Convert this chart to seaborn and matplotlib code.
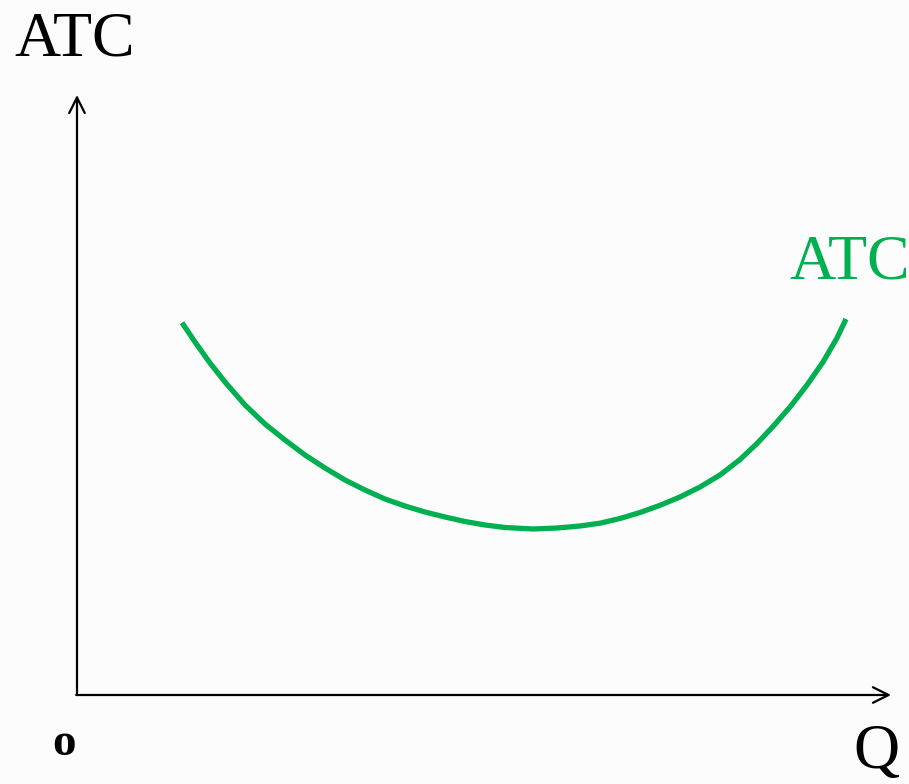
import matplotlib
matplotlib.use("Agg")
import matplotlib.pyplot as plt
import seaborn as sns
import pandas as pd

# Data (arbitrary units: quantity Q, average total cost ATC)
quantity = [10.5, 11.8, 13.3, 14.8, 16.8, 18.8, 20.8, 22.8, 24.8, 26.8,
            28.8, 30.8, 32.8, 34.8, 36.8, 38.8, 40.8, 42.8, 45.6,
            48.0, 50.3, 52.3, 54.3, 56.3, 58.3, 60.3, 62.3, 64.3, 66.3,
            68.0, 69.6, 71.3, 73.0, 74.6, 76.0, 76.9]
atc = [37.23, 35.3, 33.2, 31.3, 29.0, 27.1, 25.5, 24.0, 22.7, 21.5,
       20.5, 19.6, 18.9, 18.3, 17.8, 17.35, 17.0, 16.75, 16.6,
       16.7, 16.9, 17.18, 17.65, 18.25, 18.97, 19.8, 20.8, 22.0, 23.55,
       25.15, 26.85, 28.8, 31.0, 33.3, 35.7, 37.6]
y_axis_label = "ATC"
x_axis_label = "Q"
origin_label = "o"
curve_label = "ATC"

sns.set_theme(style="white")
plt.rcParams["font.family"] = ["Liberation Serif", "DejaVu Serif"]

bg = "#fcfcfc"
green = "#00b050"

fig = plt.figure(figsize=(9.09, 7.84), dpi=100, facecolor=bg)
ax = fig.add_axes([0, 0, 1, 1])
ax.set_facecolor(bg)
ax.set_xlim(-7.7, 83.2)
ax.set_ylim(-8.9, 69.5)
ax.axis("off")

df = pd.DataFrame({"Q": quantity, "ATC": atc})
sns.lineplot(data=df, x="Q", y="ATC", sort=False, color=green, linewidth=3.8,
             ax=ax, solid_capstyle="butt", solid_joinstyle="round")

arrow = dict(arrowstyle="->", color="black", lw=1.6, mutation_scale=28,
             shrinkA=0, shrinkB=0)
ax.annotate("", xy=(0, 60.0), xytext=(0, 0), arrowprops=arrow)
ax.annotate("", xy=(81.4, 0), xytext=(-0.08, 0), arrowprops=arrow)

ax.text(-0.2, 64.0, y_axis_label, ha="center", va="baseline", fontsize=46, color="black")
ax.text(77.3, 41.7, curve_label, ha="center", va="baseline", fontsize=46, color=green)
ax.text(79.9, -7.3, x_axis_label, ha="center", va="baseline", fontsize=46, color="black")
ax.text(-1.3, -4.9, origin_label, ha="center", va="center", fontsize=34,
        fontweight="bold", color="black")

fig.savefig("out.png", dpi=100, facecolor=bg)
